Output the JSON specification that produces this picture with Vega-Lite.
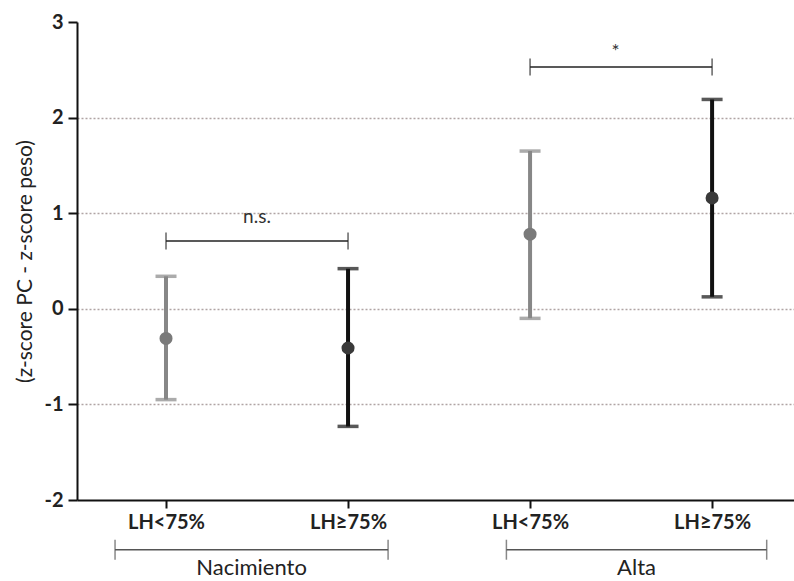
{
  "$schema": "https://vega.github.io/schema/vega-lite/v6.json",
  "width": 717,
  "height": 478,
  "autosize": {"type": "none"},
  "padding": {"left": 77, "top": 22, "right": 0, "bottom": 81},
  "background": "white",
  "config": {
    "view": {"stroke": null},
    "font": "Lato"
  },
  "datasets": {
    "stats": [
      {"grupo": "Nacimiento", "cat": "LH<75%", "pos": 1, "media": -0.31, "lo": -0.95, "hi": 0.34},
      {"grupo": "Nacimiento", "cat": "LH≥75%", "pos": 2, "media": -0.41, "lo": -1.23, "hi": 0.42},
      {"grupo": "Alta", "cat": "LH<75%", "pos": 3, "media": 0.78, "lo": -0.1, "hi": 1.65},
      {"grupo": "Alta", "cat": "LH≥75%", "pos": 4, "media": 1.16, "lo": 0.125, "hi": 2.19}
    ],
    "sig": [
      {"label": "n.s.", "lx": 1.5, "ly": 0.9},
      {"label": "*", "lx": 3.47, "ly": 2.62}
    ],
    "sigb": [
      {"x": 1, "x2": 2, "y": 0.71},
      {"x": 3, "x2": 4, "y": 2.53}
    ],
    "groups": [
      {"x": 0.72, "x2": 2.22, "y": -2.52, "label": "Nacimiento", "lx": 1.47, "ly": -2.78},
      {"x": 2.87, "x2": 4.3, "y": -2.52, "label": "Alta", "lx": 3.585, "ly": -2.78}
    ]
  },
  "encoding": {
    "x": {
      "type": "quantitative",
      "scale": {"domain": [0.511, 4.45], "nice": false, "zero": false}
    }
  },
  "layer": [
    {
      "data": {"name": "stats"},
      "mark": {"type": "rule", "strokeWidth": 4},
      "encoding": {
        "x": {
          "field": "pos",
          "type": "quantitative",
          "axis": {
            "values": [1, 2, 3, 4],
            "title": null,
            "grid": false,
            "domainColor": "#111",
            "domainWidth": 2,
            "tickColor": "#111",
            "tickWidth": 2,
            "tickSize": 8,
            "labelExpr": "(datum.value == 1 || datum.value == 3) ? 'LH<75%' : 'LH≥75%'",
            "labelFont": "Lato",
            "labelFontSize": 20,
            "labelFontWeight": "bold",
            "labelColor": "#222",
            "labelPadding": 4
          }
        },
        "y": {
          "field": "lo",
          "type": "quantitative",
          "scale": {"domain": [-2, 3], "nice": false, "zero": false},
          "axis": {
            "values": [-2, -1, 0, 1, 2, 3],
            "labelExpr": "datum.value < 0 ? '-' + abs(datum.value) : '' + datum.value",
            "title": "(z-score PC - z-score peso)",
            "titleFont": "Lato",
            "titleFontSize": 21,
            "titleFontWeight": "normal",
            "titleColor": "#222",
            "titlePadding": 8,
            "grid": true,
            "gridColor": "#b0a4a4",
            "gridDash": [2, 2],
            "gridWidth": 1.5,
            "gridOpacity": {"condition": {"test": "datum.value == 3 || datum.value == -2", "value": 0}, "value": 1},
            "domainColor": "#111",
            "domainWidth": 2,
            "tickColor": "#111",
            "tickWidth": 2,
            "tickSize": 9,
            "labelFont": "Lato",
            "labelFontSize": 20,
            "labelFontWeight": "bold",
            "labelColor": "#222",
            "labelPadding": 5
          }
        },
        "y2": {"field": "hi"},
        "color": {
          "field": "cat",
          "type": "nominal",
          "scale": {"domain": ["LH<75%", "LH≥75%"], "range": ["#878787", "#111111"]},
          "legend": null
        }
      }
    },
    {
      "data": {"name": "stats"},
      "mark": {"type": "tick", "orient": "horizontal", "size": 21, "thickness": 3.5},
      "encoding": {
        "x": {"field": "pos", "type": "quantitative"},
        "y": {"field": "lo", "type": "quantitative"},
        "color": {"field": "cat", "type": "nominal", "legend": null}
      }
    },
    {
      "data": {"name": "stats"},
      "mark": {"type": "tick", "orient": "horizontal", "size": 21, "thickness": 3.5},
      "encoding": {
        "x": {"field": "pos", "type": "quantitative"},
        "y": {"field": "hi", "type": "quantitative"},
        "color": {"field": "cat", "type": "nominal", "legend": null}
      }
    },
    {
      "data": {"name": "stats"},
      "mark": {"type": "point", "filled": true, "size": 170, "opacity": 1},
      "encoding": {
        "x": {"field": "pos", "type": "quantitative"},
        "y": {"field": "media", "type": "quantitative"},
        "color": {
          "field": "cat",
          "type": "nominal",
          "scale": {"domain": ["LH<75%", "LH≥75%"], "range": ["#878787", "#111111"]},
          "legend": null
        },
        "fill": {
          "field": "cat",
          "type": "nominal",
          "scale": {"domain": ["LH<75%", "LH≥75%"], "range": ["#7a7a7a", "#3a3a3a"]},
          "legend": null
        }
      }
    },
    {
      "data": {"name": "sigb"},
      "mark": {"type": "rule", "strokeWidth": 1.5, "color": "#222"},
      "encoding": {
        "x": {"field": "x", "type": "quantitative"},
        "x2": {"field": "x2"},
        "y": {"field": "y", "type": "quantitative"}
      }
    },
    {
      "data": {"name": "sigb"},
      "transform": [{"fold": ["x", "x2"], "as": ["end", "xe"]}],
      "mark": {"type": "tick", "orient": "vertical", "size": 17, "thickness": 1.5, "color": "#222"},
      "encoding": {
        "x": {"field": "xe", "type": "quantitative"},
        "y": {"field": "y", "type": "quantitative"}
      }
    },
    {
      "data": {"name": "sig"},
      "mark": {"type": "text", "fontSize": 19, "color": "#333", "font": "Lato", "baseline": "alphabetic"},
      "encoding": {
        "x": {"field": "lx", "type": "quantitative"},
        "y": {"field": "ly", "type": "quantitative"},
        "text": {"field": "label"}
      }
    },
    {
      "data": {"name": "groups"},
      "mark": {"type": "rule", "strokeWidth": 1.5, "color": "#555"},
      "encoding": {
        "x": {"field": "x", "type": "quantitative"},
        "x2": {"field": "x2"},
        "y": {"field": "y", "type": "quantitative"}
      }
    },
    {
      "data": {"name": "groups"},
      "transform": [{"fold": ["x", "x2"], "as": ["end", "xe"]}],
      "mark": {"type": "tick", "orient": "vertical", "size": 20, "thickness": 1.5, "color": "#555"},
      "encoding": {
        "x": {"field": "xe", "type": "quantitative"},
        "y": {"field": "y", "type": "quantitative"}
      }
    },
    {
      "data": {"name": "groups"},
      "mark": {"type": "text", "fontSize": 22, "color": "#222", "font": "Lato", "baseline": "alphabetic"},
      "encoding": {
        "x": {"field": "lx", "type": "quantitative"},
        "y": {"field": "ly", "type": "quantitative"},
        "text": {"field": "label"}
      }
    }
  ]
}
